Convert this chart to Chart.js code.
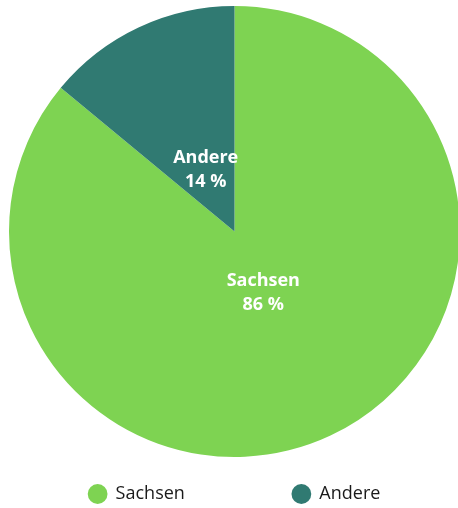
<!DOCTYPE html>
<html>
<head>
<meta charset="utf-8">
<script src="https://cdn.jsdelivr.net/npm/chart.js@4/dist/chart.umd.min.js"></script>
<style>
  html, body { margin: 0; padding: 0; background: #fff; overflow: hidden; }
  #wrap { position: absolute; left: 0; top: 0; width: 470px; height: 513px; }
</style>
</head>
<body>
<div id="wrap"><canvas id="chart" width="470" height="513"></canvas></div>
<script>
const labels = ["Sachsen", "Andere"];
const shares = [86, 14];
const colors = ["#7ed352", "#307a72"];

const FONT = "'Open Sans', 'Noto Sans', sans-serif";

// white two-line labels inside each slice
const sliceLabels = {
  id: "sliceLabels",
  afterDatasetsDraw(chart) {
    const ctx = chart.ctx;
    const meta = chart.getDatasetMeta(0);
    meta.data.forEach((arc, i) => {
      const p = arc.getProps(["x", "y", "startAngle", "endAngle", "outerRadius"], true);
      const mid = (p.startAngle + p.endAngle) / 2;
      const r = p.outerRadius * 0.3;
      const cx = p.x + Math.cos(mid) * r;
      const cy = p.y + Math.sin(mid) * r;
      ctx.save();
      ctx.font = "bold 18px " + FONT;
      ctx.fillStyle = "#ffffff";
      ctx.textAlign = "center";
      ctx.textBaseline = "middle";
      ctx.fillText(labels[i], cx, cy - 12);
      ctx.fillText(shares[i] + " %", cx, cy + 12);
      ctx.restore();
    });
  },
};

const baseLabels = Chart.overrides.doughnut.plugins.legend.labels.generateLabels;

new Chart(document.getElementById("chart"), {
  type: "pie",
  data: {
    labels: labels,
    datasets: [
      {
        data: shares,
        backgroundColor: colors,
        borderWidth: 0,
      },
    ],
  },
  options: {
    responsive: false,
    animation: false,
    layout: { padding: { top: 6, left: 9, right: 10, bottom: 0 } },
    plugins: {
      tooltip: { enabled: false },
      legend: {
        position: "bottom",
        labels: {
          usePointStyle: true,
          pointStyle: "circle",
          boxHeight: 14,
          boxWidth: 18,
          padding: 28,
          color: "#1a1a1a",
          font: { family: FONT, size: 18 },
          // wide gap between the two entries
          generateLabels(chart) {
            return baseLabels(chart).map((item, i) => {
              item.lineWidth = 0;
              if (i === 0) item.text = item.text + " ".repeat(17);
              return item;
            });
          },
        },
      },
    },
  },
  plugins: [sliceLabels],
});
</script>
</body>
</html>
